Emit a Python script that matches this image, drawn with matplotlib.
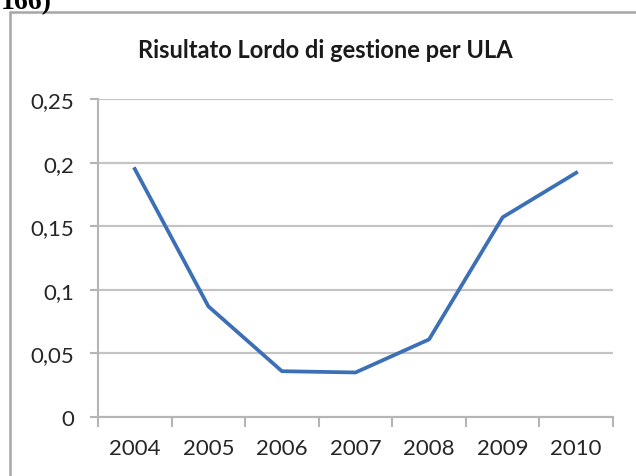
import matplotlib.pyplot as plt
from matplotlib.patches import Rectangle
from matplotlib.ticker import FuncFormatter

# dati
anni = ['2004', '2005', '2006', '2007', '2008', '2009', '2010']
valori = [0.195, 0.087, 0.036, 0.035, 0.061, 0.157, 0.192]
titolo = 'Risultato Lordo di gestione per ULA'
y_ticks = [0, 0.05, 0.1, 0.15, 0.2, 0.25]

W, H = 636, 477
fig = plt.figure(figsize=(W / 100, H / 100), dpi=100)
fig.patch.set_facecolor('white')

# cornice del grafico (esce dall'immagine a destra e in basso)
fig.patches.append(Rectangle((10 / W, -0.1), 1.2, 1 - 13 / H + 0.1,
                             transform=fig.transFigure, fill=False,
                             edgecolor='#a6a6a6', linewidth=1.8))

# testo tagliato in alto a sinistra (come nel riferimento)
fig.text(1 / W, 1 - 9 / H, '166)', fontsize=20, fontweight='bold',
         family='Liberation Serif', va='baseline', ha='left')

ax = fig.add_axes([98 / W, 1 - 418 / H, (613 - 98) / W, (418 - 100) / H])
x = list(range(len(anni)))
ax.plot(x, valori, color='#3b6fb6', linewidth=2.7, solid_joinstyle='round')

ax.set_xlim(-0.5, len(anni) - 0.5)
ax.set_ylim(0, 0.25)
ax.set_yticks(y_ticks)
ax.yaxis.set_major_formatter(FuncFormatter(lambda v, p: ('%g' % v).replace('.', ',')))
ax.set_xticks(x)
ax.set_xticklabels(anni)
ax.set_xticks([i - 0.5 for i in range(len(anni) + 1)], minor=True)

ax.grid(axis='y', color='#c4c4c4', linewidth=1.6)
ax.set_axisbelow(True)
for s in ['top', 'right']:
    ax.spines[s].set_visible(False)
for s in ['left', 'bottom']:
    ax.spines[s].set_color('#b5b5b5')
    ax.spines[s].set_linewidth(1.5)

ax.tick_params(axis='x', which='major', length=0, pad=15, labelsize=16, labelcolor='#262626')
ax.tick_params(axis='x', which='minor', length=7, width=1.5, color='#b5b5b5')
ax.tick_params(axis='y', length=6, width=1.5, color='#b5b5b5', pad=11, labelsize=16, labelcolor='#262626')
for lab in ax.get_xticklabels() + ax.get_yticklabels():
    lab.set_family('Lato')

fig.text((133 + 517) / 2 / W, 1 - 50 / H, titolo, fontsize=17, fontweight='bold',
         family='Lato', ha='center', va='center', color='#1a1a1a')

fig.savefig('out.png', dpi=100)
